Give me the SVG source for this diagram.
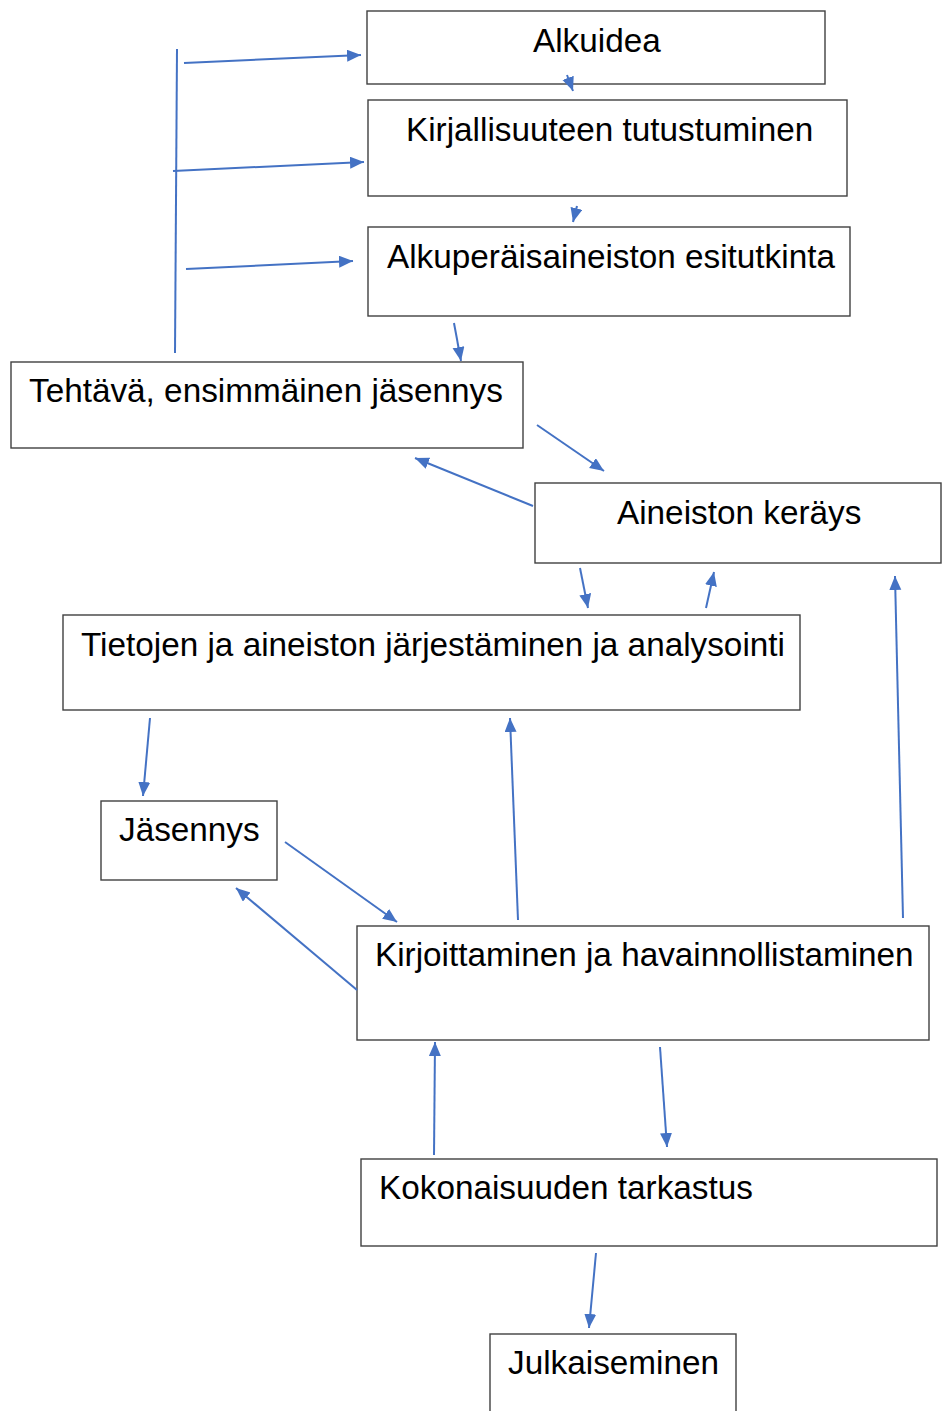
<svg xmlns="http://www.w3.org/2000/svg" width="947" height="1411" viewBox="0 0 947 1411">
<style>
.box{fill:#fff;stroke:#404040;stroke-width:1.4}
.lbl{font-family:"Liberation Sans",Arial,sans-serif;font-size:33.3px;fill:#000}
.c{stroke:#4472C4;stroke-width:2;fill:none}
.a{marker-end:url(#ah)}
</style>
<defs>
<marker id="ah" markerUnits="userSpaceOnUse" markerWidth="16" markerHeight="14" refX="14" refY="6" orient="auto">
<path d="M0,0 L14,6 L0,12 Z" fill="#4472C4"/>
</marker>
</defs>
<rect width="947" height="1411" fill="#fff"/>
<g id="n1"><rect class="box" x="367" y="11" width="458" height="73"/><text class="lbl" x="533" y="52">Alkuidea</text></g>
<g id="n2"><rect class="box" x="368" y="100" width="479" height="96"/><text class="lbl" x="406" y="141">Kirjallisuuteen tutustuminen</text></g>
<g id="n3"><rect class="box" x="368" y="227" width="482" height="89"/><text class="lbl" x="387" y="268">Alkuperäisaineiston esitutkinta</text></g>
<g id="n4"><rect class="box" x="11" y="362" width="512" height="86"/><text class="lbl" x="29" y="402">Tehtävä, ensimmäinen jäsennys</text></g>
<g id="n5"><rect class="box" x="535" y="483" width="406" height="80"/><text class="lbl" x="617" y="524">Aineiston keräys</text></g>
<g id="n6"><rect class="box" x="63" y="615" width="737" height="95"/><text class="lbl" x="81" y="656">Tietojen ja aineiston järjestäminen ja analysointi</text></g>
<g id="n7"><rect class="box" x="101" y="801" width="176" height="79"/><text class="lbl" x="119" y="841">Jäsennys</text></g>
<g id="n8"><rect class="box" x="357" y="926" width="572" height="114"/><text class="lbl" x="375" y="966">Kirjoittaminen ja havainnollistaminen</text></g>
<g id="n9"><rect class="box" x="361" y="1159" width="576" height="87"/><text class="lbl" x="379" y="1199">Kokonaisuuden tarkastus</text></g>
<g id="n10"><rect class="box" x="490" y="1334" width="246" height="100"/><text class="lbl" x="508" y="1374">Julkaiseminen</text></g>
<g id="connectors">
<line class="c" x1="177" y1="49" x2="175" y2="353"/>
<line class="c a" x1="184" y1="63" x2="361" y2="55"/>
<line class="c a" x1="173" y1="171" x2="364" y2="162"/>
<line class="c a" x1="186" y1="269" x2="353" y2="261"/>
<line class="c a" x1="567" y1="75" x2="573" y2="91"/>
<line class="c a" x1="577" y1="206" x2="573" y2="222"/>
<line class="c a" x1="454" y1="323" x2="461" y2="361"/>
<line class="c a" x1="537" y1="425" x2="604" y2="471"/>
<line class="c a" x1="533" y1="506" x2="415" y2="458"/>
<line class="c a" x1="580" y1="568" x2="588" y2="608"/>
<line class="c a" x1="706" y1="608" x2="714" y2="572"/>
<line class="c a" x1="903" y1="918" x2="895" y2="576"/>
<line class="c a" x1="150" y1="718" x2="143" y2="796"/>
<line class="c a" x1="285" y1="842" x2="397" y2="922"/>
<line class="c a" x1="357" y1="990" x2="236" y2="888"/>
<line class="c a" x1="518" y1="920" x2="510" y2="718"/>
<line class="c a" x1="434" y1="1155" x2="435" y2="1042"/>
<line class="c a" x1="660" y1="1047" x2="667" y2="1147"/>
<line class="c a" x1="596" y1="1253" x2="589" y2="1328"/>
</g>
</svg>
